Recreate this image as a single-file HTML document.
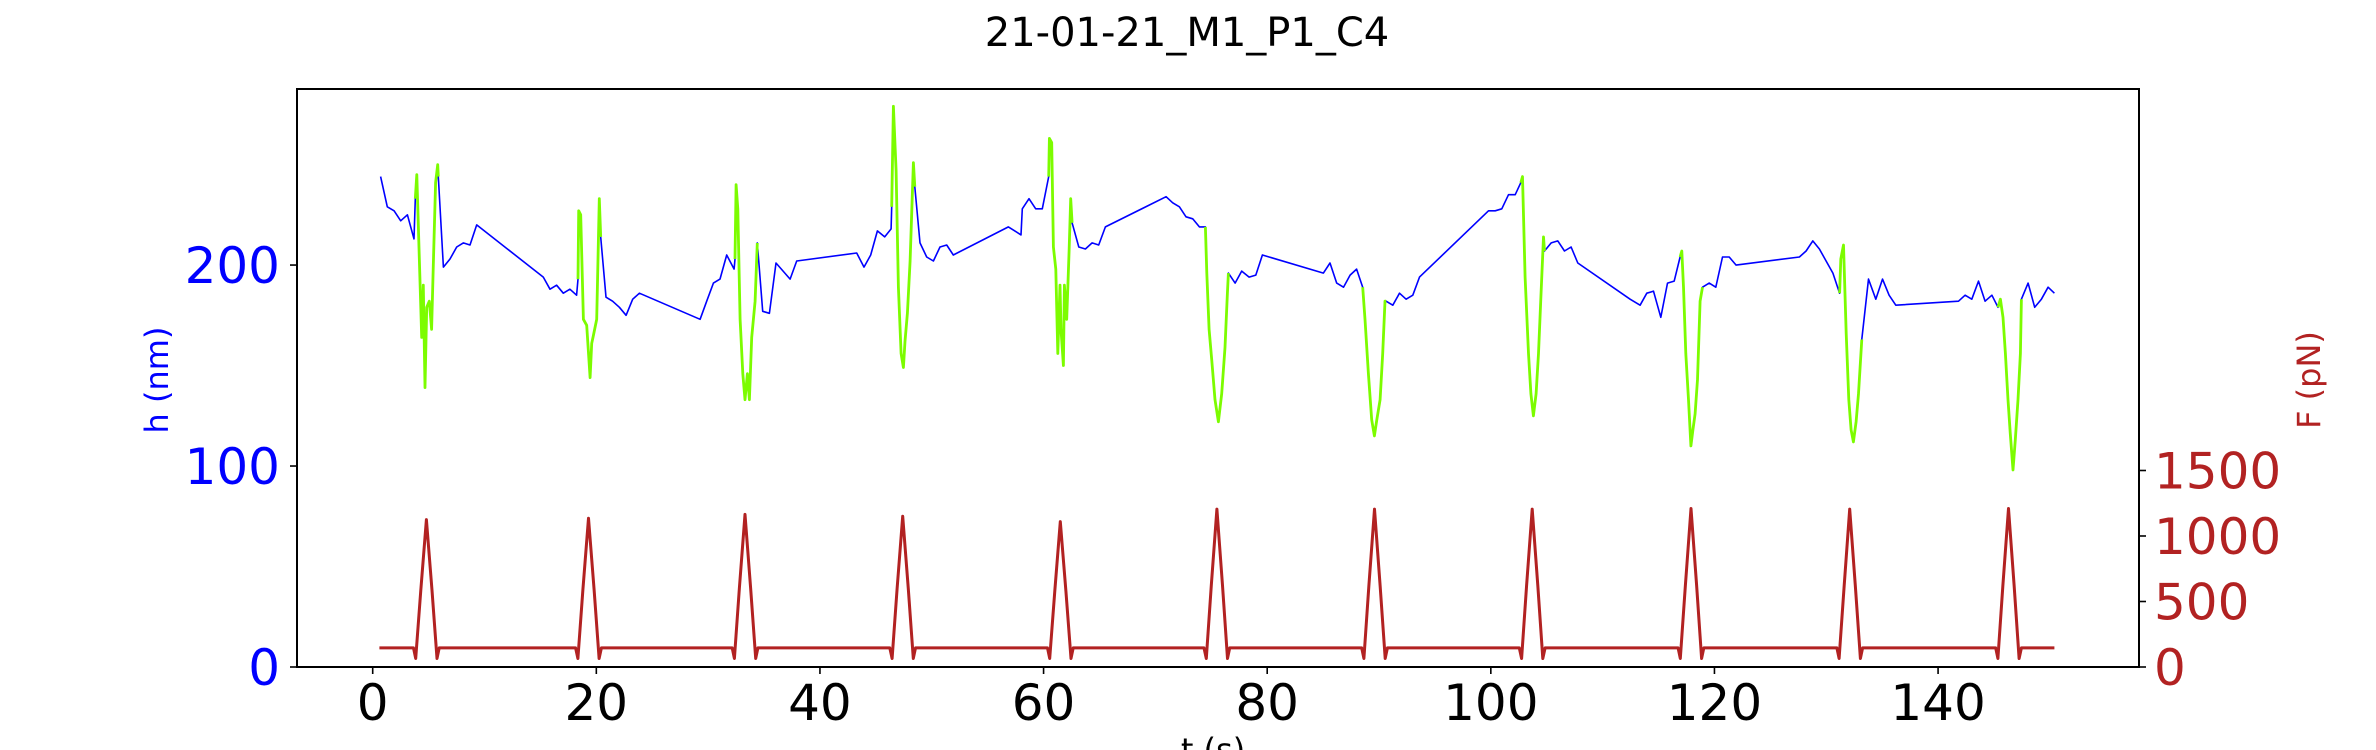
<!DOCTYPE html>
<html><head><meta charset="utf-8"><title>21-01-21_M1_P1_C4</title>
<style>html,body{margin:0;padding:0;background:#fff}svg{display:block}text{font-family:"DejaVu Sans","Liberation Sans",sans-serif}</style>
</head><body>
<svg id="chart" width="2376" height="750" viewBox="0 0 2376 750" xmlns="http://www.w3.org/2000/svg">
<rect width="2376" height="750" fill="#fff"/>
<text x="1187" y="46" font-size="40" text-anchor="middle" fill="#000">21-01-21_M1_P1_C4</text>
<g id="plot"></g>
<text transform="translate(168,380) rotate(-90)" font-size="32" text-anchor="middle" fill="#0000ff">h (nm)</text>
<text transform="translate(2320,380) rotate(-90)" font-size="32" text-anchor="middle" fill="#b22222">F (pN)</text>
<text x="1213" y="761" font-size="32" text-anchor="middle" fill="#000">t (s)</text>
</svg>
<script>
const hT=[0.71,1.31,1.91,2.50,3.10,3.69,3.81,3.94,4.23,4.38,4.53,4.68,4.83,5.06,5.27,5.41,5.63,5.81,5.87,6.32,6.91,7.51,8.1,8.7,9.3,15.26,15.86,16.45,17.05,17.64,18.24,18.36,18.42,18.6,18.84,19.14,19.29,19.44,19.59,19.74,20.03,20.27,20.39,20.87,21.46,22.06,22.66,23.25,23.85,29.28,29.87,30.47,31.06,31.66,32.32,32.4,32.5,32.65,32.86,33.1,33.3,33.51,33.69,33.9,34.2,34.4,34.88,35.48,36.07,37.33,37.92,43.29,43.94,44.54,45.14,45.79,46.36,46.42,46.57,46.81,47.02,47.26,47.46,47.61,47.82,48.06,48.36,48.48,48.95,49.55,50.15,50.74,51.34,51.93,56.85,57.98,58.1,58.7,59.3,59.89,60.46,60.52,60.73,60.88,61.09,61.27,61.47,61.56,61.77,61.86,62.07,62.28,62.43,62.55,63.15,63.74,64.34,64.93,65.53,70.96,71.55,72.15,72.74,73.34,73.94,74.47,74.6,74.8,75.04,75.33,75.64,75.93,76.23,76.44,76.53,77.13,77.72,78.38,78.98,79.57,85.03,85.62,86.22,86.82,87.41,88.0,88.54,88.75,89.05,89.35,89.59,89.8,90.1,90.33,90.54,90.63,91.23,91.83,92.42,93.02,93.62,99.79,100.39,100.98,101.58,102.18,102.68,102.83,103.07,103.37,103.58,103.81,104.05,104.26,104.47,104.71,104.8,105.4,105.99,106.59,107.18,107.78,112.46,113.35,113.95,114.55,115.2,115.8,116.4,116.93,117.08,117.23,117.44,117.68,117.89,118.07,118.27,118.48,118.72,118.93,119.53,120.12,120.72,121.32,121.94,127.6,128.2,128.8,129.39,129.99,130.59,131.19,131.3,131.54,131.78,132.02,132.22,132.43,132.67,132.88,133.18,133.78,134.43,135.03,135.62,136.22,141.83,142.42,143.02,143.62,144.21,144.81,145.36,145.57,145.81,146.02,146.25,146.46,146.7,146.91,147.15,147.36,147.45,148.05,148.64,149.24,149.84,150.4];
const hV=[244,229,227,222,225,213,233,245,192,164,190,139,179,182,168,198,241,250,244,199,203,209,211,210,220,194,188,190,186,188,185,193,227,225,173,170,157,144,161,165,173,233,214,184,182,179,175,183,186,173,182,191,193,205,198,203,240,228,173,146,133,146,133,164,182,211,177,176,201,193,202,206,199,205,217,214,218,229,279,247,189,156,149,162,176,202,251,239,211,204,202,209,210,205,219,215,228,233,228,228,244,263,261,209,198,156,190,168,150,190,173,207,233,221,209,208,211,210,219,234,231,229,224,223,219,219,196,168,153,133,122,136,159,186,196,191,197,194,195,205,196,201,191,189,195,198,189,173,146,123,115,123,133,156,182,182,180,186,183,185,194,227,227,228,235,235,241,244,194,156,136,125,136,156,183,214,207,211,212,207,209,201,183,180,186,187,174,191,192,204,207,189,156,133,110,118,126,143,182,189,191,189,204,204,200,204,207,212,208,202,196,186,203,210,166,133,118,112,122,136,163,193,183,193,185,180,182,185,183,192,182,185,179,183,174,156,133,116,98,113,133,156,183,191,179,183,189,186,191];
const evStart=[3.81,18.36,32.4,46.42,60.46,74.47,88.54,102.68,116.93,131.19,145.36];
const evEnd=[5.87,20.39,34.4,48.48,62.55,76.53,90.63,104.8,118.93,133.18,147.45];
const fPeakT=[4.8,19.3,33.3,47.4,61.5,75.5,89.6,103.7,117.9,132.1,146.3];
const fPeakV=[1125,1135,1165,1150,1110,1205,1205,1205,1210,1205,1210];
const fBase=[146];
const fDip=[65];
const fRange=[0.6,150.4];
const xTicks=[0,20,40,60,80,100,120,140];
const yTicksL=[0,100,200];
const yTicksR=[0,500,1000,1500];

const X0=297,X1=2139,Y0=89,Y1=667;
const xMin=-6.77,xMax=157.97,hMax=287.6,fMax=4412;
const sx=t=>X0+(t-xMin)/(xMax-xMin)*(X1-X0);
const syL=v=>Y1-v/hMax*(Y1-Y0);
const syR=v=>Y1-v/fMax*(Y1-Y0);
const NS='http://www.w3.org/2000/svg';
const g=document.getElementById('plot');
function mk(tag,attrs){const e=document.createElementNS(NS,tag);for(const k in attrs)e.setAttribute(k,attrs[k]);g.appendChild(e);return e;}

// F series
let fp=[[fRange[0],fBase[0]]];
for(let i=0;i<fPeakT.length;i++){const p=fPeakT[i];
 fp.push([p-1.15,fBase[0]],[p-0.95,fDip[0]],[p-0.5,fBase[0]+0.45*(fPeakV[i]-fBase[0])],[p,fPeakV[i]],[p+0.5,fBase[0]+0.45*(fPeakV[i]-fBase[0])],[p+0.95,fDip[0]],[p+1.15,fBase[0]]);}
fp.push([fRange[1],fBase[0]]);
const fl=mk('polyline',{points:fp.map(q=>sx(q[0]).toFixed(1)+','+syR(q[1]).toFixed(1)).join(' '),fill:'none',stroke:'#b22222','stroke-width':3,'stroke-linejoin':'round'});



// h series (blue)
const hl=mk('polyline',{points:hT.map((t,i)=>sx(t).toFixed(1)+','+syL(hV[i]).toFixed(1)).join(' '),fill:'none',stroke:'#0000ff','stroke-width':1.6,'stroke-linejoin':'round'});



// green event segments
for(let k=0;k<evStart.length;k++){
 const pts=[];for(let i=0;i<hT.length;i++){if(hT[i]>=evStart[k]&&hT[i]<=evEnd[k])pts.push(sx(hT[i]).toFixed(1)+','+syL(hV[i]).toFixed(1));}
 const e=mk('polyline',{points:pts.join(' '),fill:'none',stroke:'#7cfc00','stroke-width':2.8,'stroke-linejoin':'round'});
 
 
}

// frame
const fr=mk('rect',{x:X0,y:Y0,width:X1-X0,height:Y1-Y0,fill:'none',stroke:'#000','stroke-width':2});



xTicks.forEach(v=>{const x=sx(v);
 const t=mk('line',{x1:x,x2:x,y1:Y1,y2:Y1+7,stroke:'#000','stroke-width':1.6});
 
 
 const l=mk('text',{x:x,y:720,'font-size':50,'text-anchor':'middle',fill:'#000'});l.textContent=v;
 
 
});
yTicksL.forEach(v=>{const y=syL(v);
 const t=mk('line',{x1:X0-7,x2:X0,y1:y,y2:y,stroke:'#000','stroke-width':1.6});
 
 
 const l=mk('text',{x:280,y:y+18,'font-size':50,'text-anchor':'end',fill:'#0000ff'});l.textContent=v;
 
 
});
yTicksR.forEach(v=>{const y=syR(v);
 const t=mk('line',{x1:X1,x2:X1+7,y1:y,y2:y,stroke:'#000','stroke-width':1.6});
 
 
 const l=mk('text',{x:2154,y:y+18,'font-size':50,'text-anchor':'start',fill:'#b22222'});l.textContent=v;
 
 
});
</script>
</body></html>
